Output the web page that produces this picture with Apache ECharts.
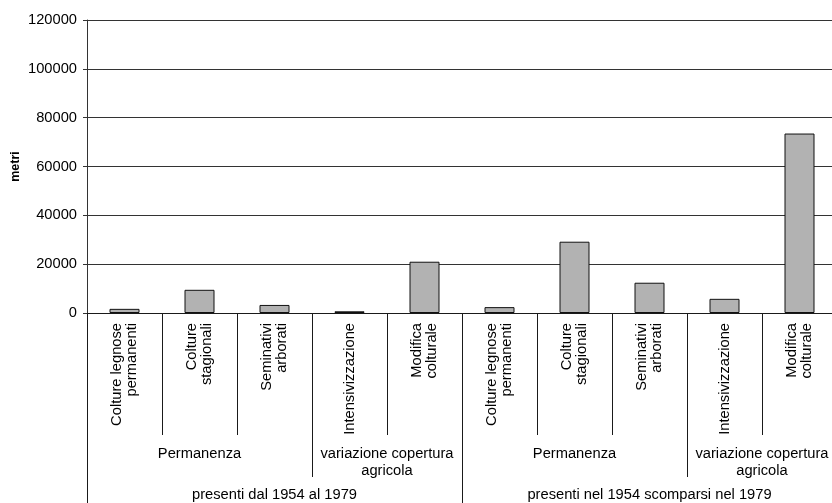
<!DOCTYPE html>
<html>
<head>
<meta charset="utf-8">
<script src="https://cdn.jsdelivr.net/npm/echarts@6/dist/echarts.min.js"></script>
<style>
html,body{margin:0;padding:0;background:#fff;}
#chart{width:832px;height:503px;}
</style>
</head>
<body>
<div id="chart"></div>
<script>
// Level-1 categories (bars)
const categories = [
  'Colture legnose\npermanenti', 'Colture\nstagionali', 'Seminativi\narborati', 'Intensivizzazione', 'Modifica\ncolturale',
  'Colture legnose\npermanenti', 'Colture\nstagionali', 'Seminativi\narborati', 'Intensivizzazione', 'Modifica\ncolturale'
];
// Series values (metri)
const values = [1700, 9500, 3300, 700, 21000, 2400, 29200, 12400, 5800, 73500];
// Level-2 groups
const level2Labels = ['Permanenza', 'variazione copertura\nagricola', 'Permanenza', 'variazione copertura\nagricola'];
const level2Spans = [3, 2, 3, 2];
// Level-3 groups
const level3Labels = ['presenti dal 1954 al 1979', 'presenti nel 1954 scomparsi nel 1979'];
const level3Spans = [5, 5];
// Y-axis ticks
const yTicks = [0, 20000, 40000, 60000, 80000, 100000, 120000];

function boundaries(spans) {
  const b = [0];
  spans.forEach(s => b.push(b[b.length - 1] + s));
  return b;
}
function centers(spans) {
  const b = boundaries(spans);
  return spans.map((s, i) => b[i] + s / 2);
}
const l2Centers = centers(level2Spans);
const l3Centers = centers(level3Spans);

const font = 'Liberation Sans, Arial, sans-serif';
const fs = 14.7;
const lineCol = '#1a1a1a';

const chart = echarts.init(document.getElementById('chart'), null, {renderer: 'canvas'});
chart.setOption({
  animation: false,
  backgroundColor: '#fff',
  grid: {left: 87, top: 20, width: 750, height: 293, containLabel: false, outerBoundsMode: 'none'},
  xAxis: [
    {
      type: 'category',
      data: categories,
      position: 'bottom',
      axisLine: {show: true, lineStyle: {color: lineCol, width: 1}},
      axisTick: {show: true, interval: 0, length: 122, lineStyle: {color: lineCol, width: 1}},
      axisLabel: {
        interval: 0, rotate: 90, margin: 10,
        fontFamily: font, fontSize: fs, color: '#000', lineHeight: 15
      },
      splitLine: {show: false}
    },
    {
      type: 'value',
      min: 0, max: categories.length,
      position: 'bottom',
      axisLine: {show: false},
      splitLine: {show: false},
      axisTick: {show: true, customValues: boundaries(level2Spans), length: 164, lineStyle: {color: lineCol, width: 1}},
      axisLabel: {
        customValues: l2Centers,
        margin: 132,
        fontFamily: font, fontSize: fs, color: '#000', lineHeight: 17, align: 'center',
        formatter: v => { const i = l2Centers.indexOf(v); return i >= 0 ? level2Labels[i] : ''; }
      }
    },
    {
      type: 'value',
      min: 0, max: categories.length,
      position: 'bottom',
      axisLine: {show: false},
      splitLine: {show: false},
      axisTick: {show: true, customValues: boundaries(level3Spans), length: 200, lineStyle: {color: lineCol, width: 1}},
      axisLabel: {
        customValues: l3Centers,
        margin: 173,
        fontFamily: font, fontSize: fs, color: '#000', lineHeight: 17, align: 'center',
        formatter: v => { const i = l3Centers.indexOf(v); return i >= 0 ? level3Labels[i] : ''; }
      }
    }
  ],
  yAxis: {
    type: 'value',
    min: yTicks[0], max: yTicks[yTicks.length - 1], interval: yTicks[1] - yTicks[0],
    name: 'metri',
    nameLocation: 'middle',
    nameGap: 65,
    nameMoveOverlap: false,
    nameRotate: 90,
    nameTextStyle: {fontFamily: font, fontSize: 12.5, fontWeight: 'bold', color: '#000'},
    axisLine: {show: true, lineStyle: {color: '#333', width: 1}},
    axisTick: {show: true, length: 4, lineStyle: {color: '#333'}},
    axisLabel: {margin: 10, fontFamily: font, fontSize: fs, color: '#000', formatter: v => String(v)},
    splitLine: {show: true, lineStyle: {color: '#333', width: 1}}
  },
  series: [{
    type: 'bar',
    data: values,
    barWidth: '40%',
    itemStyle: {color: '#b2b2b2', borderColor: '#111', borderWidth: 1}
  }]
});
</script>
</body>
</html>
